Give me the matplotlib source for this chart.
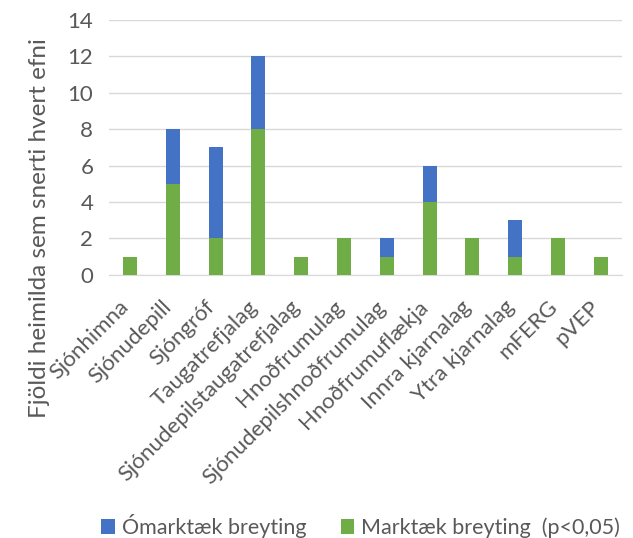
import numpy as np
import matplotlib.pyplot as plt

plt.rcParams['font.family'] = ['Lato', 'DejaVu Sans']

flokkar = ["Sjónhimna", "Sjónudepill", "Sjóngróf", "Taugatrefjalag",
           "Sjónudepilstaugatrefjalag", "Hnoðfrumulag", "Sjónudepilshnoðfrumulag",
           "Hnoðfrumuflækja", "Innra kjarnalag", "Ytra kjarnalag", "mFERG", "pVEP"]
marktaek = [1, 5, 2, 8, 1, 2, 1, 4, 2, 1, 2, 1]
omarktaek = [0, 3, 5, 4, 0, 0, 1, 2, 0, 2, 0, 0]

grar = "#595959"
fig = plt.figure(figsize=(6.33, 5.38), dpi=100)
ax = fig.add_axes([0.1716, 0.489, 0.8114, 0.474])

x = np.arange(len(flokkar))
ax.bar(x, marktaek, width=0.33, color="#70AD47", label="Marktæk breyting  (p<0,05)", zorder=3)
ax.bar(x, omarktaek, width=0.33, bottom=marktaek, color="#4472C4",
       label="Ómarktæk breyting", zorder=3)

ax.set_xlim(-0.5, len(flokkar) - 0.5)
ax.set_ylim(0, 14)
ax.set_yticks(range(0, 15, 2))
ax.grid(axis="y", color="#D9D9D9", linewidth=1, zorder=0)
for s in ["top", "right", "left"]:
    ax.spines[s].set_visible(False)
ax.spines["bottom"].set_color("#D9D9D9")
ax.tick_params(axis="both", length=0, colors=grar, labelsize=16)
ax.tick_params(axis="y", pad=11)
ax.tick_params(axis="x", pad=24)
ax.set_xticks(x)
ax.set_xticklabels(flokkar, rotation=45, ha="right", va="baseline",
                   rotation_mode="anchor", color=grar)

fig.text(0.063, 1 - 228 / 538, "Fjöldi heimilda sem snerti hvert efni", rotation=90,
         ha="center", va="center", fontsize=17.5, color=grar)

h, l = ax.get_legend_handles_labels()
fig.legend(h[::-1], l[::-1], loc="center right", bbox_to_anchor=(1.003, 1 - 526 / 538), ncol=2,
           frameon=False, fontsize=15.5, labelcolor=grar, handlelength=0.65, handleheight=0.65,
           columnspacing=1.6, handletextpad=0.3, borderpad=0.2)

fig.savefig("out.png", dpi=100)
